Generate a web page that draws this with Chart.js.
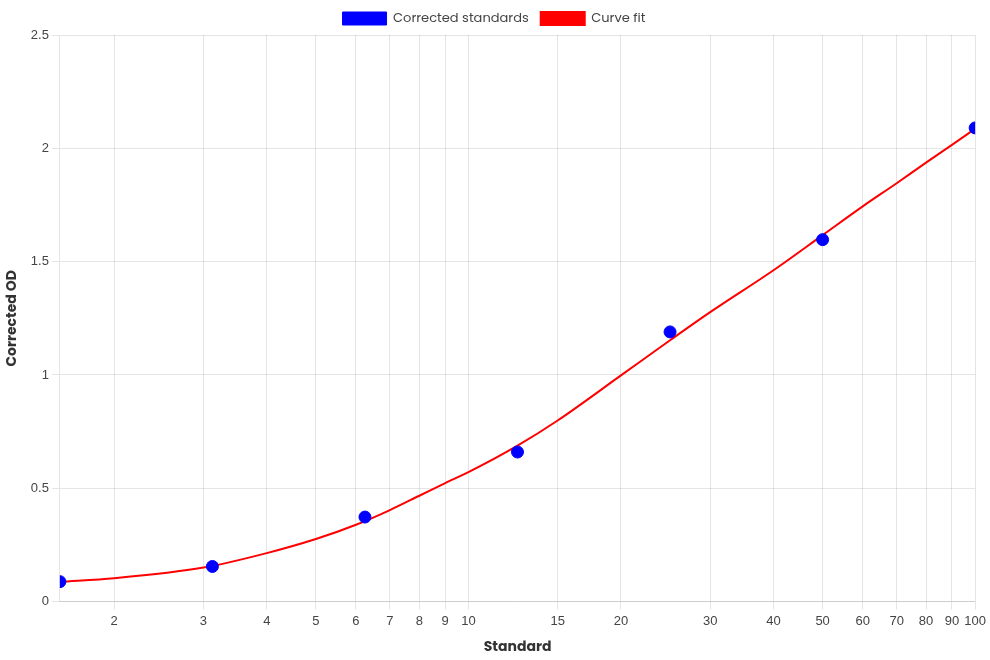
<!DOCTYPE html>
<html>
<head>
<meta charset="utf-8">
<script src="https://cdn.jsdelivr.net/npm/chart.js@4/dist/chart.umd.min.js"></script>
<style>
  html, body { margin: 0; padding: 0; background: #fff; }
  #wrap { width: 990px; height: 660px; }
</style>
</head>
<body>
<div id="wrap"><canvas id="chart"></canvas></div>
<script>
// standards (x) and their corrected OD
const standards = [1.5625, 3.125, 6.25, 12.5, 25, 50, 100];
const correctedOD = [0.088, 0.155, 0.373, 0.66, 1.19, 1.597, 2.09];

// curve fit
const fitX = [1.5625, 2, 3, 4, 5, 6, 7, 8, 9, 10, 12.5, 15, 20, 25, 30, 40, 50, 60, 70, 80, 90, 100];
const fitY = [0.087, 0.103, 0.150, 0.214, 0.276, 0.339, 0.404, 0.467, 0.523, 0.571, 0.688, 0.799, 0.998, 1.153, 1.277, 1.462, 1.617, 1.744, 1.846, 1.937, 2.015, 2.087];

const xMin = 1.5625;
const xMax = 100;
const xTickLabels = [2, 3, 4, 5, 6, 7, 8, 9, 10, 15, 20, 30, 40, 50, 60, 70, 80, 90, 100];

const titleFont = { family: "'Poppins', 'Open Sans', sans-serif", size: 14, weight: 'bold' };
const tickFont = { size: 13 };

new Chart(document.getElementById('chart'), {
  type: 'scatter',
  data: {
    datasets: [
      {
        label: 'Corrected standards',
        data: standards.map((x, i) => ({ x, y: correctedOD[i] })),
        backgroundColor: '#0000ff',
        borderColor: '#0000ff',
        pointRadius: 6,
        pointHoverRadius: 6,
        order: 1
      },
      {
        label: 'Curve fit',
        type: 'line',
        data: fitX.map((x, i) => ({ x, y: fitY[i] })),
        borderColor: '#ff0000',
        backgroundColor: '#ff0000',
        borderWidth: 2,
        pointRadius: 0,
        cubicInterpolationMode: 'monotone',
        fill: false,
        order: 2
      }
    ]
  },
  options: {
    responsive: true,
    maintainAspectRatio: false,
    animation: false,
    layout: { padding: { right: 2 } },
    plugins: {
      legend: {
        labels: {
          boxWidth: 44,
          boxHeight: 13,
          padding: 12,
          color: '#444',
          font: { family: "'Poppins', 'Open Sans', sans-serif", size: 13 }
        }
      },
      tooltip: { enabled: false }
    },
    scales: {
      x: {
        type: 'logarithmic',
        min: xMin,
        max: xMax,
        // the log scale skips 2 when min is 1.5625, so set the ticks ourselves
        afterBuildTicks: axis => {
          axis.ticks = xTickLabels.map(v => ({ value: v }));
        },
        title: { display: true, text: 'Standard', color: '#333', font: titleFont, padding: { top: 6, bottom: 4 } },
        ticks: {
          autoSkip: false,
          maxRotation: 0,
          padding: 4,
          color: '#444',
          font: tickFont,
          callback: value => String(value)
        }
      },
      y: {
        min: 0,
        max: 2.5,
        title: { display: true, text: 'Corrected OD', color: '#333', font: titleFont, padding: { top: 4, bottom: 7 } },
        ticks: { stepSize: 0.5, color: '#444', font: tickFont, callback: value => String(Number(value.toFixed(2))) }
      }
    }
  }
});
</script>
</body>
</html>
